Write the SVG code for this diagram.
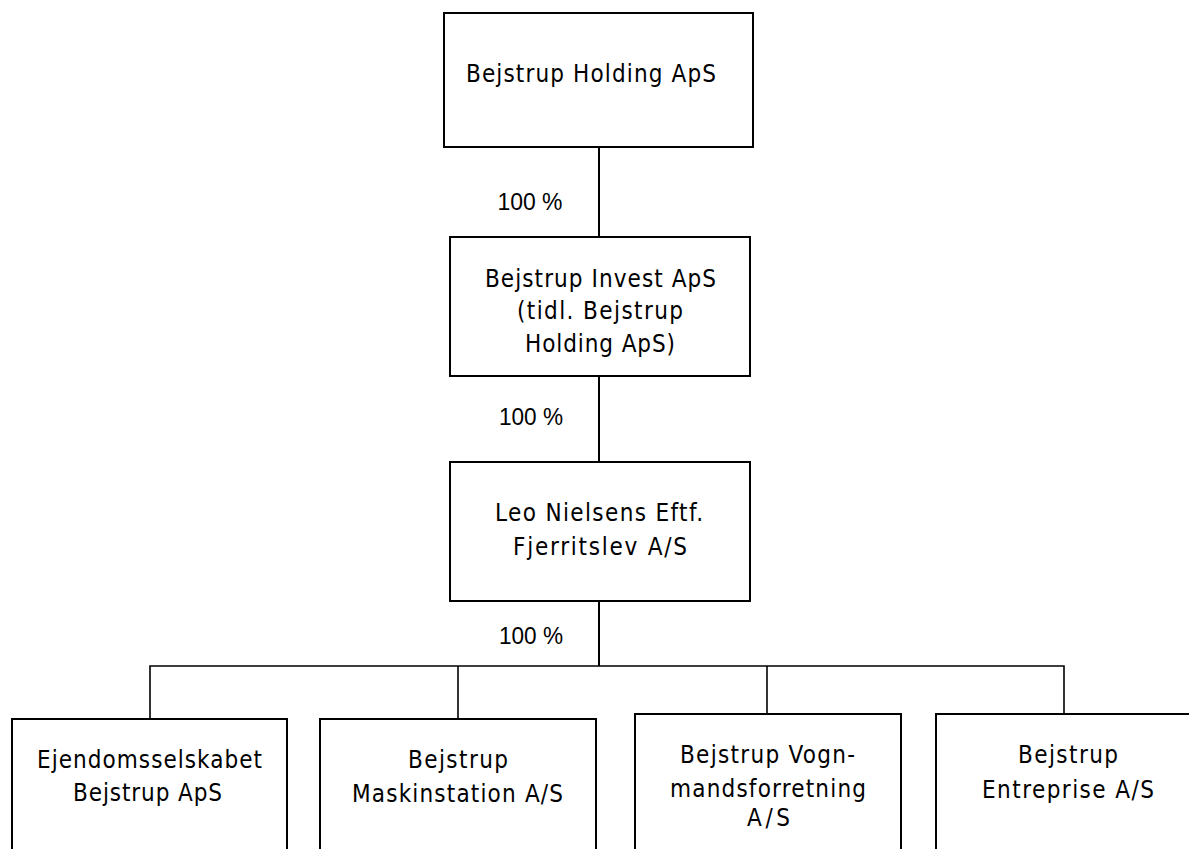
<svg xmlns="http://www.w3.org/2000/svg" width="1189" height="849" viewBox="0 0 1189 849">
<style>
.box{fill:#fff;stroke:#000;stroke-width:2}
.ln{fill:none;stroke:#000;stroke-width:2}
.bus{fill:none;stroke:#000;stroke-width:1.6}
text{font-family:"DejaVu Sans Condensed","DejaVu Sans","Liberation Sans",sans-serif;font-stretch:condensed;font-size:24px;fill:#000;text-anchor:middle}
text.pct{font-family:"Liberation Sans",Arial,sans-serif;font-stretch:normal;font-size:23px}
</style>
<rect width="1189" height="849" fill="#fff"/>
<g id="connectors">
<line class="ln" x1="599" y1="147" x2="599" y2="237"/>
<line class="ln" x1="599" y1="376" x2="599" y2="462"/>
<line class="ln" x1="599" y1="601" x2="599" y2="666"/>
<polyline class="bus" points="150,719 150,666 1064,666 1064,714"/>
<line class="bus" x1="458" y1="666" x2="458" y2="719"/>
<line class="bus" x1="767" y1="666" x2="767" y2="714"/>
<text class="pct" x="530" y="210" textLength="65" lengthAdjust="spacingAndGlyphs">100 %</text>
<text class="pct" x="531" y="425" textLength="64" lengthAdjust="spacingAndGlyphs">100 %</text>
<text class="pct" x="531" y="644" textLength="64" lengthAdjust="spacingAndGlyphs">100 %</text>
</g>
<g id="n-holding">
<rect class="box" x="444" y="13" width="309" height="134"/>
<text x="591" y="82" textLength="250">Bejstrup Holding ApS</text>
</g>
<g id="n-invest">
<rect class="box" x="450" y="237" width="300" height="139"/>
<text x="600.5" y="287" textLength="231">Bejstrup Invest ApS</text>
<text x="600" y="319" textLength="166">(tidl. Bejstrup</text>
<text x="600" y="352" textLength="150">Holding ApS)</text>
</g>
<g id="n-leo">
<rect class="box" x="450" y="462" width="300" height="139"/>
<text x="599" y="521" textLength="208">Leo Nielsens Eftf.</text>
<text x="600" y="555" textLength="174">Fjerritslev A/S</text>
</g>
<g id="n-ejendom">
<rect class="box" x="12" y="719" width="275" height="200"/>
<text x="149.5" y="768" textLength="225">Ejendomsselskabet</text>
<text x="147.5" y="801" textLength="149">Bejstrup ApS</text>
</g>
<g id="n-maskin">
<rect class="box" x="320" y="719" width="276" height="200"/>
<text x="458" y="768" textLength="100">Bejstrup</text>
<text x="457.5" y="802" textLength="211">Maskinstation A/S</text>
</g>
<g id="n-vogn">
<rect class="box" x="635" y="714" width="266" height="200"/>
<text x="767.5" y="763" textLength="175">Bejstrup Vogn-</text>
<text x="768" y="797" textLength="196">mandsforretning</text>
<text x="768.5" y="826" textLength="43">A/S</text>
</g>
<g id="n-entreprise">
<rect class="box" x="936" y="714" width="270" height="200"/>
<text x="1068" y="763" textLength="100">Bejstrup</text>
<text x="1068" y="798" textLength="172">Entreprise A/S</text>
</g>
</svg>
